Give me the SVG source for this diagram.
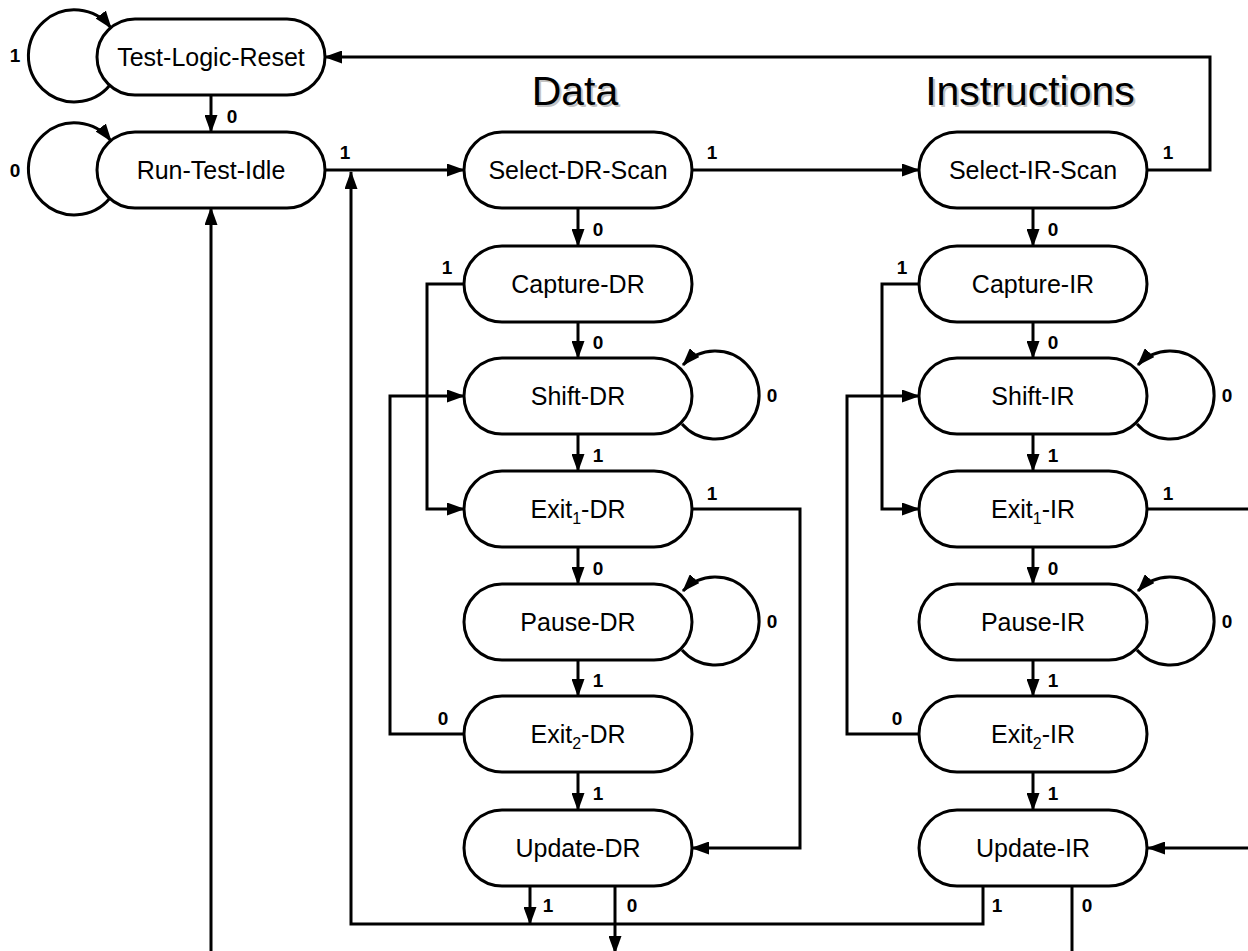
<svg xmlns="http://www.w3.org/2000/svg" width="1248" height="951" viewBox="0 0 1248 951">
<style>
.node rect{fill:#fff;stroke:#000;stroke-width:3}
.node text{font-family:"Liberation Sans",Arial,sans-serif;font-size:25px;text-anchor:middle;fill:#000}
.sub{font-size:16px}
.conn path{fill:none;stroke:#000;stroke-width:3}
.arr{marker-end:url(#ah)}
.lbl{font-family:"Liberation Sans",Arial,sans-serif;font-size:19px;font-weight:bold;fill:#000;text-anchor:middle}
.hdr{font-family:"Liberation Sans",Arial,sans-serif;font-size:41px;text-anchor:middle;fill:#000}
.hdrs{font-family:"Liberation Sans",Arial,sans-serif;font-size:41px;text-anchor:middle;fill:#888;opacity:0.5}
</style>
<defs>
<marker id="ah" markerUnits="userSpaceOnUse" markerWidth="18" markerHeight="13" refX="17" refY="6.5" orient="auto">
<path d="M0,0 L18,6.5 L0,13 z" fill="#000"/>
</marker>
</defs>
<rect x="0" y="0" width="1248" height="951" fill="#fff"/>
<g id="headers">
<text class="hdrs" x="577" y="107">Data</text>
<text class="hdr" x="575" y="105">Data</text>
<text class="hdrs" x="1032" y="107">Instructions</text>
<text class="hdr" x="1030" y="105">Instructions</text>
</g>
<g id="connectors" class="conn">
<path class="arr" d="M211 95 V132"/>
<path class="arr" d="M325 170 H464"/>
<path class="arr" d="M692 170 H919"/>
<path class="arr" d="M1148 170 H1210 V57 H325"/>
<path class="arr" d="M578 208 V246"/>
<path class="arr" d="M578 322 V358"/>
<path class="arr" d="M578 434 V471"/>
<path class="arr" d="M578 547 V584"/>
<path class="arr" d="M578 660 V696"/>
<path class="arr" d="M578 772 V810"/>
<path class="arr" d="M1033 208 V246"/>
<path class="arr" d="M1033 322 V358"/>
<path class="arr" d="M1033 434 V471"/>
<path class="arr" d="M1033 547 V584"/>
<path class="arr" d="M1033 660 V696"/>
<path class="arr" d="M1033 772 V810"/>
<path class="arr" d="M464 284 H427 V509 H464"/>
<path class="arr" d="M464 734 H390 V396 H464"/>
<path class="arr" d="M692 509 H800 V848 H692"/>
<path class="arr" d="M919 284 H882 V509 H919"/>
<path class="arr" d="M919 734 H847 V396 H919"/>
<path d="M1148 509 H1250"/>
<path class="arr" d="M1250 848 H1148"/>
<path class="arr" d="M983 886 V924 H351 V172"/>
<path class="arr" d="M530 886 V924"/>
<path class="arr" d="M615 886 V953"/>
<path d="M1072 886 V953"/>
<path class="arr" d="M211 953 V208"/>
<path class="arr" d="M110 85 A46 46 0 1 1 111 28"/>
<path class="arr" d="M110 198 A46 46 0 1 1 111 141"/>
<path class="arr" d="M682 424 A44 44 0 1 0 683 365"/>
<path class="arr" d="M682 650 A44 44 0 1 0 683 591"/>
<path class="arr" d="M1137 424 A44 44 0 1 0 1138 365"/>
<path class="arr" d="M1137 650 A44 44 0 1 0 1138 591"/>
</g>
<g id="labels">
<text class="lbl" x="15" y="62">1</text>
<text class="lbl" x="15" y="177">0</text>
<text class="lbl" x="232" y="123">0</text>
<text class="lbl" x="345" y="159">1</text>
<text class="lbl" x="712" y="159">1</text>
<text class="lbl" x="1168" y="159">1</text>
<text class="lbl" x="598" y="236">0</text>
<text class="lbl" x="598" y="349">0</text>
<text class="lbl" x="598" y="462">1</text>
<text class="lbl" x="598" y="575">0</text>
<text class="lbl" x="598" y="687">1</text>
<text class="lbl" x="598" y="800">1</text>
<text class="lbl" x="1053" y="236">0</text>
<text class="lbl" x="1053" y="349">0</text>
<text class="lbl" x="1053" y="462">1</text>
<text class="lbl" x="1053" y="575">0</text>
<text class="lbl" x="1053" y="687">1</text>
<text class="lbl" x="1053" y="800">1</text>
<text class="lbl" x="447" y="274">1</text>
<text class="lbl" x="902" y="274">1</text>
<text class="lbl" x="443" y="725">0</text>
<text class="lbl" x="897" y="725">0</text>
<text class="lbl" x="712" y="500">1</text>
<text class="lbl" x="1168" y="500">1</text>
<text class="lbl" x="772" y="402">0</text>
<text class="lbl" x="772" y="628">0</text>
<text class="lbl" x="1227" y="402">0</text>
<text class="lbl" x="1227" y="628">0</text>
<text class="lbl" x="548" y="912">1</text>
<text class="lbl" x="632" y="912">0</text>
<text class="lbl" x="997" y="912">1</text>
<text class="lbl" x="1087" y="912">0</text>
</g>
<g id="n-tlr" class="node"><rect x="97" y="19" width="228" height="76" rx="38"/><text x="211" y="66">Test-Logic-Reset</text></g>
<g id="n-rti" class="node"><rect x="97" y="132" width="228" height="76" rx="38"/><text x="211" y="179">Run-Test-Idle</text></g>
<g id="n-sdr" class="node"><rect x="464" y="132" width="228" height="76" rx="38"/><text x="578" y="179">Select-DR-Scan</text></g>
<g id="n-cdr" class="node"><rect x="464" y="246" width="228" height="76" rx="38"/><text x="578" y="293">Capture-DR</text></g>
<g id="n-shdr" class="node"><rect x="464" y="358" width="228" height="76" rx="38"/><text x="578" y="405">Shift-DR</text></g>
<g id="n-e1dr" class="node"><rect x="464" y="471" width="228" height="76" rx="38"/><text x="578" y="518">Exit<tspan class="sub" dy="6">1</tspan><tspan dy="-6">-DR</tspan></text></g>
<g id="n-pdr" class="node"><rect x="464" y="584" width="228" height="76" rx="38"/><text x="578" y="631">Pause-DR</text></g>
<g id="n-e2dr" class="node"><rect x="464" y="696" width="228" height="76" rx="38"/><text x="578" y="743">Exit<tspan class="sub" dy="6">2</tspan><tspan dy="-6">-DR</tspan></text></g>
<g id="n-udr" class="node"><rect x="464" y="810" width="228" height="76" rx="38"/><text x="578" y="857">Update-DR</text></g>
<g id="n-sir" class="node"><rect x="919" y="132" width="228" height="76" rx="38"/><text x="1033" y="179">Select-IR-Scan</text></g>
<g id="n-cir" class="node"><rect x="919" y="246" width="228" height="76" rx="38"/><text x="1033" y="293">Capture-IR</text></g>
<g id="n-shir" class="node"><rect x="919" y="358" width="228" height="76" rx="38"/><text x="1033" y="405">Shift-IR</text></g>
<g id="n-e1ir" class="node"><rect x="919" y="471" width="228" height="76" rx="38"/><text x="1033" y="518">Exit<tspan class="sub" dy="6">1</tspan><tspan dy="-6">-IR</tspan></text></g>
<g id="n-pir" class="node"><rect x="919" y="584" width="228" height="76" rx="38"/><text x="1033" y="631">Pause-IR</text></g>
<g id="n-e2ir" class="node"><rect x="919" y="696" width="228" height="76" rx="38"/><text x="1033" y="743">Exit<tspan class="sub" dy="6">2</tspan><tspan dy="-6">-IR</tspan></text></g>
<g id="n-uir" class="node"><rect x="919" y="810" width="228" height="76" rx="38"/><text x="1033" y="857">Update-IR</text></g>
</svg>
